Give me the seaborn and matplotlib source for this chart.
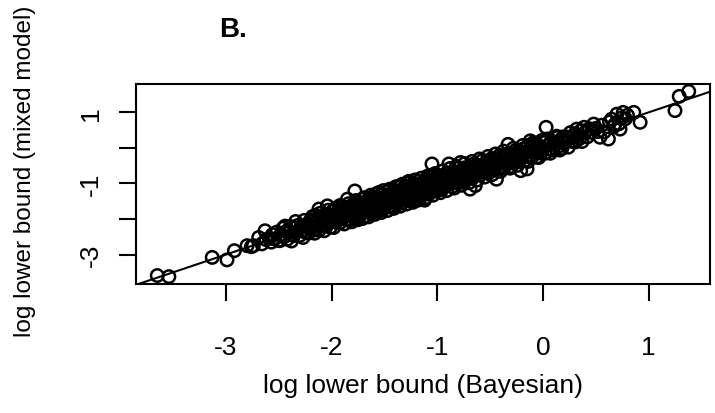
import matplotlib
matplotlib.use("Agg")
import matplotlib.pyplot as plt
import seaborn as sns
import pandas as pd

# log lower bound (Bayesian) -> x ; log lower bound (mixed model) -> y
bayes_x = [
    -3.65, -3.54, -3.13, -2.99, -2.92, -2.80, -2.76, -2.74, -2.69, -2.66, -2.63, -2.62,
    -2.59, -2.57, -2.56, -2.54, -2.52, -2.50, -2.49, -2.48, -2.46, -2.45, -2.43, -2.42,
    -2.40, -2.39, -2.37, -2.36, -2.35, -2.33, -2.32, -2.30, -2.29, -2.28, -2.26, -2.25,
    -2.24, -2.23, -2.22, -2.21, -2.20, -2.20,
    -2.19, -2.18, -2.17, -2.16, -2.15, -2.14, -2.13, -2.12, -2.12, -2.11, -2.10, -2.09,
    -2.08, -2.07, -2.06, -2.05, -2.04, -2.04, -2.03, -2.02, -2.01, -2.00, -1.99, -1.98,
    -1.97, -1.96, -1.95, -1.94, -1.93, -1.92, -1.91, -1.90, -1.89, -1.88, -1.87, -1.86,
    -1.85, -1.85, -1.84, -1.83, -1.83, -1.82, -1.81, -1.80, -1.80,
    -1.79, -1.78, -1.78, -1.77, -1.76, -1.76, -1.75, -1.74, -1.74, -1.73, -1.72, -1.72,
    -1.71, -1.70, -1.70, -1.69, -1.68, -1.68, -1.67, -1.66, -1.66, -1.65, -1.64, -1.64,
    -1.63, -1.62, -1.62, -1.61, -1.60, -1.60, -1.59, -1.58, -1.58, -1.57, -1.56, -1.56,
    -1.55, -1.54, -1.54, -1.53, -1.52, -1.52, -1.51, -1.50, -1.50, -1.49, -1.48, -1.48,
    -1.47, -1.46, -1.46, -1.45, -1.44, -1.44, -1.43, -1.42, -1.42, -1.41, -1.40, -1.40,
    -1.39, -1.38, -1.38, -1.37, -1.36, -1.36, -1.35, -1.34, -1.34, -1.33, -1.32, -1.32,
    -1.31, -1.30, -1.30, -1.29, -1.28, -1.28, -1.27, -1.26, -1.26, -1.25, -1.24, -1.24,
    -1.23, -1.22, -1.22, -1.21, -1.20, -1.20, -1.19, -1.18, -1.18, -1.17, -1.16, -1.16,
    -1.15, -1.14, -1.14, -1.13, -1.12, -1.12, -1.11, -1.10, -1.10, -1.09, -1.08, -1.08,
    -1.07, -1.06, -1.06, -1.05, -1.05, -1.04, -1.03, -1.03, -1.02, -1.01, -1.01, -1.00,
    -0.99, -0.98, -0.98, -0.97, -0.96, -0.96, -0.95, -0.94, -0.93, -0.93, -0.92, -0.91,
    -0.90, -0.89, -0.89, -0.88, -0.87, -0.86, -0.86, -0.85, -0.84, -0.83, -0.82, -0.81,
    -0.80, -0.80, -0.79, -0.78, -0.78, -0.77, -0.76, -0.75, -0.75, -0.74, -0.73, -0.72,
    -0.71, -0.70, -0.69, -0.69, -0.68, -0.67, -0.66, -0.65, -0.64, -0.64, -0.63, -0.62,
    -0.61, -0.60,
    -0.59, -0.58, -0.57, -0.56, -0.55, -0.54, -0.53, -0.52, -0.51, -0.50, -0.49, -0.48,
    -0.47, -0.46, -0.45, -0.44, -0.44, -0.43, -0.42, -0.41, -0.40, -0.39, -0.38, -0.37,
    -0.36, -0.35, -0.34, -0.33, -0.33, -0.32, -0.31, -0.30, -0.29, -0.28, -0.27, -0.26,
    -0.25, -0.24, -0.23, -0.22, -0.21, -0.21, -0.20,
    -0.19, -0.18, -0.17, -0.15, -0.15, -0.14, -0.13, -0.12, -0.11, -0.10, -0.09, -0.08,
    -0.07, -0.06, -0.05, -0.04, -0.03, -0.02, -0.01, 0.00, 0.01, 0.02, 0.03, 0.04,
    0.05, 0.06, 0.08, 0.09, 0.11, 0.12, 0.14, 0.15, 0.17, 0.18, 0.19,
    0.21, 0.22, 0.24, 0.25, 0.26, 0.28, 0.29, 0.31, 0.32, 0.33, 0.35, 0.36,
    0.37, 0.39, 0.40, 0.42, 0.44, 0.46, 0.48, 0.50, 0.52, 0.54, 0.56, 0.58,
    0.62, 0.63, 0.65, 0.67, 0.68, 0.70, 0.72, 0.73, 0.74, 0.76, 0.78, 0.80,
    0.86, 0.92, 1.25, 1.29, 1.38,
    # band edges
    -2.44, -2.38, -2.34, -2.27, -2.18, -2.16, -2.11, -2.07, -2.03, -1.98, -1.96, -1.92,
    -1.88, -1.84, -1.81, -1.77, -1.75, -1.71, -1.69, -1.65, -1.63, -1.59, -1.57, -1.53,
    -1.51, -1.47, -1.45, -1.41, -1.39, -1.35, -1.33, -1.29, -1.27, -1.23, -1.21, -1.17,
    -1.15, -1.11, -1.09, -1.04, -1.02, -0.97, -0.95, -0.91, -0.88, -0.84, -0.82, -0.77,
    -0.74, -0.70, -0.67, -0.62, -0.60, -0.55, -0.52, -0.48, -0.45, -0.40, -0.37, -0.31,
    -0.28, -0.24, -0.19, -0.14, -0.09, -0.04, 0.02, 0.07, 0.13, 0.16,
    # band core
    -1.99, -1.91, -1.86, -1.79, -1.73, -1.67, -1.61, -1.55, -1.49, -1.43, -1.37, -1.31,
    -1.25, -1.19, -1.13, -1.07, -1.00, -0.94, -0.87, -0.81, -0.76, -0.71, -0.65, -0.58,
    -0.53, -0.47, -0.42, -0.36, -0.30, -0.25,
]
mixed_y = [
    -3.59, -3.62, -3.08, -3.15, -2.89, -2.75, -2.78, -2.75, -2.52, -2.70, -2.33, -2.58,
    -2.54, -2.65, -2.44, -2.56, -2.37, -2.60, -2.61, -2.44, -2.26, -2.50, -2.35, -2.57,
    -2.38, -2.21, -2.44, -2.47, -2.25, -2.35, -2.18, -2.46, -2.23, -2.33, -2.04, -2.37,
    -2.23, -2.14, -2.40, -2.17, -2.28, -2.04,
    -2.22, -2.06, -2.31, -2.11, -1.90, -2.20, -2.04, -1.72, -2.32, -2.09, -1.95, -2.19,
    -2.01, -2.09, -1.87, -2.20, -1.63, -2.00, -2.11, -1.90, -2.23, -1.97, -1.78, -2.03,
    -1.87, -2.09, -1.89, -1.78, -1.94, -2.10, -1.83, -1.66, -1.98, -1.86, -1.74, -2.02,
    -1.44, -1.80, -1.88, -1.65, -2.03, -1.73, -1.92, -1.79, -1.66,
    -1.86, -1.21, -1.67, -1.92, -1.72, -1.54, -1.77, -1.93, -1.66, -1.57, -1.81, -1.70,
    -1.44, -1.83, -1.64, -1.72, -1.55, -1.92, -1.58, -1.72, -1.47, -1.64, -1.81, -1.54,
    -1.67, -1.39, -1.73, -1.56, -1.80, -1.46, -1.60, -1.50, -1.72, -1.40, -1.63, -1.53,
    -1.25, -1.64, -1.43, -1.75, -1.46, -1.55, -1.31, -1.66, -1.41, -1.54, -1.35, -1.60,
    -1.45, -1.21, -1.65, -1.38, -1.52, -1.29, -1.45, -1.32, -1.68, -1.37, -1.51, -1.22,
    -1.43, -1.26, -1.55, -1.31, -1.08, -1.45, -1.34, -1.55, -1.19, -1.36, -1.23, -1.46,
    -1.10, -1.36, -1.27, -1.47, -1.17, -1.29, -0.94, -1.38, -1.19, -1.49, -1.08, -1.29,
    -1.21, -1.37, -1.03, -1.29, -1.10, -1.48, -1.14, -1.29, -0.94, -1.19, -1.03, -1.35,
    -1.11, -1.21, -0.97, -1.26, -1.04, -1.47, -1.10, -1.20, -0.90, -1.13, -0.96, -1.30,
    -1.01, -1.21, -0.80, -0.45, -1.11, -0.95, -1.21, -0.88, -1.03, -0.96, -1.13, -0.78,
    -1.07, -0.88, -1.18, -0.94, -0.79, -1.07, -0.97, -0.81, -1.09, -0.87, -0.97, -0.70,
    -1.03, -0.45, -0.88, -0.97, -0.76, -1.09, -0.81, -0.88, -0.68, -0.97, -0.74, -0.87,
    -0.56, -0.98, -0.76, -0.41, -0.88, -0.65, -0.78, -0.96, -0.68, -0.56, -0.81, -0.70,
    -0.86, -0.57, -1.16, -0.73, -0.59, -0.86, -0.46, -0.64, -1.06, -0.75, -0.49, -0.68,
    -0.56, -0.76,
    -0.49, -0.61, -0.35, -0.69, -0.51, -0.62, -0.38, -0.72, -0.44, -0.51, -0.31, -0.59,
    -0.45, -0.63, -0.33, -0.88, -0.49, -0.34, -0.56, -0.21, -0.42, -0.33, -0.57, -0.23,
    -0.43, -0.32, -0.46, 0.10, -0.16, -0.36, -0.23, -0.52, -0.18, -0.37, -0.26, -0.07,
    -0.40, -0.19, -0.29, -0.09, -0.64, -0.32, -0.13,
    -0.21, -0.02, -0.35, -0.59, -0.11, 0.07, -0.21, 0.20, -0.01, -0.24, -0.07, 0.10,
    -0.13, -0.26, 0.07, -0.05, 0.04, -0.14, 0.21, -0.04, 0.15, -0.15, 0.58, 0.25,
    0.08, -0.03, 0.19, -0.06, 0.17, 0.09, 0.30, 0.05, 0.21, -0.01, 0.31,
    0.16, 0.31, 0.02, 0.27, 0.43, 0.18, 0.35, 0.17, 0.53, 0.34, 0.27, 0.49,
    0.18, 0.58, 0.44, 0.31, 0.54, 0.44, 0.67, 0.55, 0.46, 0.30, 0.64, 0.45,
    0.25, 0.73, 0.81, 0.60, 0.66, 0.95, 0.68, 0.53, 0.84, 1.00, 0.82, 0.92,
    1.00, 0.72, 1.05, 1.45, 1.59,
    # band edges
    -2.20, -2.62, -2.07, -2.52, -1.93, -2.40, -1.84, -2.33, -1.75, -2.24, -1.69, -1.62,
    -2.14, -1.57, -2.08, -1.48, -2.02, -1.99, -1.40, -1.94, -1.33, -1.87, -1.28, -1.82,
    -1.20, -1.76, -1.16, -1.70, -1.09, -1.64, -1.02, -1.58, -0.98, -1.53, -0.90, -1.46,
    -0.85, -1.40, -0.79, -1.33, -0.72, -1.26, -0.65, -1.20, -0.58, -1.13, -0.52, -1.05,
    -0.44, -0.98, -0.38, -0.90, -0.31, -0.82, -0.24, -0.75, -0.17, -0.66, -0.09, -0.57,
    -0.01, -0.49, 0.07, -0.38, 0.15, -0.27, 0.24, -0.15, 0.33, -0.06,
    # band core
    -2.05, -1.95, -1.80, -1.74, -1.76, -1.65, -1.66, -1.52, -1.47, -1.50, -1.39, -1.29,
    -1.30, -1.20, -1.10, -1.09, -1.04, -0.92, -0.90, -0.79, -0.70, -0.73, -0.62, -0.56,
    -0.57, -0.48, -0.40, -0.38, -0.30, -0.24,
]

x_ticks = [-3, -2, -1, 0, 1]
x_tick_labels = ["-3", "-2", "-1", "0", "1"]
y_ticks = [-3, -2, -1, 0, 1]
y_tick_labels = ["-3", "", "-1", "", "1"]
ref_intercept = 0.0
ref_slope = 1.0

sns.set_theme(style="white")
plt.rcParams["font.family"] = ["Liberation Sans", "DejaVu Sans"]
plt.rcParams["text.color"] = "black"
plt.rcParams["axes.labelcolor"] = "black"
plt.rcParams["xtick.color"] = "black"
plt.rcParams["ytick.color"] = "black"

W, H = 715, 414
fig = plt.figure(figsize=(W / 100, H / 100), dpi=100)
ax = fig.add_axes([136 / W, 1 - 285 / H, (710 - 136) / W, (285 - 85) / H])

df = pd.DataFrame({"x": bayes_x, "y": mixed_y})
sns.scatterplot(data=df, x="x", y="y", ax=ax, s=80, linewidth=1.8, legend=False)
coll = ax.collections[0]
coll.set_facecolor("none")
coll.set_edgecolor("black")
coll.set_linewidth(1.8)

ax.axline((0, ref_intercept), slope=ref_slope, color="black", lw=1.5, zorder=3)

# R-style 4% axis extension
xr = max(bayes_x) - min(bayes_x)
yr = max(mixed_y) - min(mixed_y)
ax.set_xlim(min(bayes_x) - 0.04 * xr, max(bayes_x) + 0.04 * xr)
ax.set_ylim(min(mixed_y) - 0.04 * yr, max(mixed_y) + 0.04 * yr)

for sp in ax.spines.values():
    sp.set_visible(True)
    sp.set_color("black")
    sp.set_linewidth(1.5)

ax.set_xticks(x_ticks)
ax.set_xticklabels(x_tick_labels, fontsize=19, color="black")
ax.set_yticks(y_ticks)
ax.set_yticklabels(y_tick_labels, fontsize=19, rotation=90, va="center", color="black")
ax.tick_params(axis="both", direction="out", length=12, width=1.5, color="black",
               bottom=True, left=True)
ax.tick_params(axis="x", pad=25)
ax.tick_params(axis="y", pad=12)

ax.set_xlabel("log lower bound (Bayesian)", fontsize=19, color="black")
ax.xaxis.set_label_coords(0.5, (285 - 386) / 200)
ax.xaxis.label.set_va("center")
ax.set_ylabel("log lower bound (mixed model)", fontsize=17.5, color="black")
ax.yaxis.set_label_coords((25 - 136) / 574, (285 - 171) / 200)
ax.yaxis.label.set_va("center")

fig.text(219 / W, 1 - 30 / H, "B.", fontsize=20, fontweight="bold", ha="left",
         va="center", color="black")

fig.savefig("out.png", dpi=100)
